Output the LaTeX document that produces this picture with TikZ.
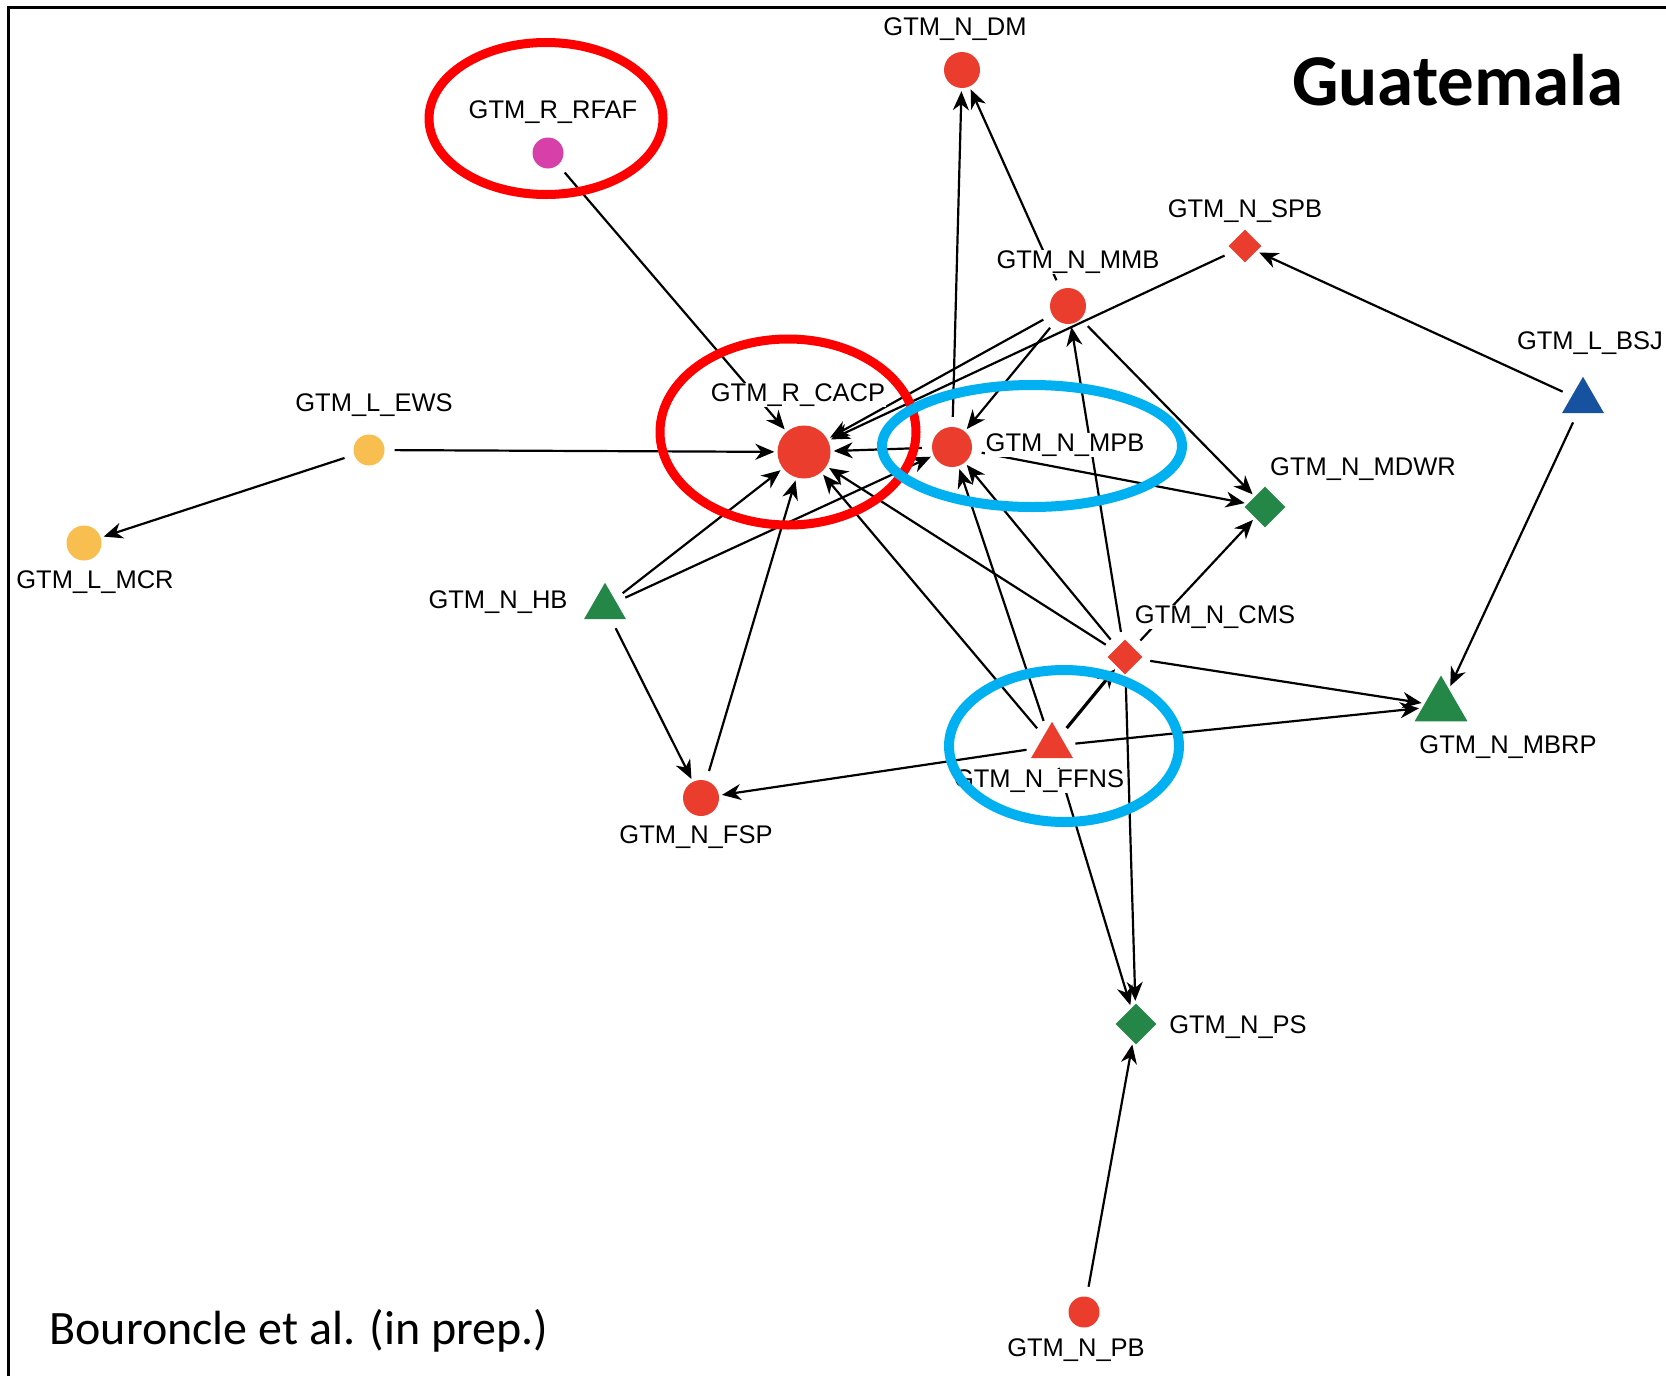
\documentclass[tikz,border=0pt]{standalone}
\usepackage{fontspec}
\setmainfont{Liberation Sans}
\newfontfamily\calibfont{Carlito}
\usetikzlibrary{arrows.meta,shapes.geometric}

\definecolor{nodered}{RGB}{234,61,45}
\definecolor{nodegreen}{RGB}{36,135,72}
\definecolor{nodeblue}{RGB}{22,82,160}
\definecolor{nodeyellow}{RGB}{249,190,80}
\definecolor{nodepink}{RGB}{214,64,168}
\definecolor{ringred}{RGB}{255,0,0}
\definecolor{ringblue}{RGB}{0,176,240}

\tikzset{
  netdot/.style={circle, fill=#1, inner sep=0pt, minimum size=36pt},
  nettri/.style={regular polygon, regular polygon sides=3, fill=#1, inner sep=0pt, minimum size=48.5pt},
  netdia/.style={diamond, fill=#1, inner sep=0pt, minimum size=35pt},
  netlbl/.style={fill=white, inner sep=1pt, font=\fontsize{25.5}{28}\selectfont},
  netlink/.style={line width=2.2pt, -{Stealth[length=19pt,width=16pt,inset=6pt]}, shorten <=10pt, shorten >=3pt},
  netring/.style={draw=#1, line width=9pt},
}

\begin{document}
\begin{tikzpicture}[x=1pt,y=1pt,yscale=-1,xscale=1]
\useasboundingbox (0,0) rectangle (1666,1376);

% frame
\draw[line width=3pt] (8,1376) -- (8,7) -- (1666,7);

% actors
\node[netdot=nodered] (dm) at (962,70) {};
\node[netdot=nodepink, minimum size=31pt] (rfaf) at (548,153) {};
\node[netdia=nodered, minimum size=33pt] (spb) at (1245,246) {};
\node[netdot=nodered] (mmb) at (1068,306) {};
\node[nettri=nodeblue] (bsj) at (1583,401) {};
\node[netdot=nodeyellow, minimum size=31pt] (ews) at (369,450) {};
\node[netdot=nodered, minimum size=53pt] (cacp) at (804,452) {};
\node[netdot=nodered, minimum size=40pt] (mpb) at (952,447) {};
\node[netdia=nodegreen, minimum size=41pt] (mdwr) at (1265,507) {};
\node[netdot=nodeyellow, minimum size=35pt] (mcr) at (84,543) {};
\node[nettri=nodegreen] (hb) at (605,607) {};
\node[netdia=nodered] (cms) at (1125,657) {};
\node[nettri=nodegreen, minimum size=61pt] (mbrp) at (1441,706) {};
\node[nettri=nodered] (ffns) at (1052,746) {};
\node[netdot=nodered] (fsp) at (701,798) {};
\node[netdia=nodegreen, minimum size=41pt] (ps) at (1136,1024) {};
\node[netdot=nodered, minimum size=31pt] (pb) at (1084,1312) {};

% links
\foreach \a/\b in {rfaf/cacp, ews/cacp, ews/mcr, mpb/cacp, mmb/cacp, spb/cacp,
    mpb/dm, mmb/dm, mmb/mpb, mmb/mdwr, mpb/mdwr,
    cms/mmb, cms/mdwr, cms/cacp, cms/mpb, cms/mbrp, cms/ps,
    ffns/mbrp, ffns/fsp, ffns/cacp, ffns/mpb, ffns/ps,
    hb/cacp, hb/mpb, hb/fsp, fsp/cacp, bsj/spb, bsj/mbrp, pb/ps}
  \draw[netlink] (\a) -- (\b);
\draw[netlink, line width=3.2pt] (ffns) -- (cms);

% labels
\node[netlbl] (dml) at (955,29) {GTM\_N\_DM};
\node[netlbl] (rfafl) at (553,112) {GTM\_R\_RFAF};
\node[netlbl] (spbl) at (1245,211) {GTM\_N\_SPB};
\node[netlbl] (mmbl) at (1078,262) {GTM\_N\_MMB};
\node[netlbl] (bsjl) at (1590,343) {GTM\_L\_BSJ};
\node[netlbl] (ewsl) at (374,405) {GTM\_L\_EWS};
\node[netlbl] (cacpl) at (798,395) {GTM\_R\_CACP};
\node[netlbl] (mpbl) at (1065,445) {GTM\_N\_MPB};
\node[netlbl] (mdwrl) at (1363,469) {GTM\_N\_MDWR};
\node[netlbl] (mcrl) at (95,582) {GTM\_L\_MCR};
\node[netlbl] (hbl) at (498,602) {GTM\_N\_HB};
\node[netlbl] (cmsl) at (1215,617) {GTM\_N\_CMS};
\node[netlbl] (mbrpl) at (1508,747) {GTM\_N\_MBRP};
\node[netlbl] (ffnsl) at (1039,781) {GTM\_N\_FFNS};
\node[netlbl] (fspl) at (696,837) {GTM\_N\_FSP};
\node[netlbl] (psl) at (1238,1027) {GTM\_N\_PS};
\node[netlbl] (pbl) at (1076,1350) {GTM\_N\_PB};

% highlight rings
\draw[netring=ringred] (546,118.5) ellipse [x radius=117, y radius=76];
\draw[netring=ringred] (788,432) ellipse [x radius=128, y radius=93];
\draw[netring=ringblue, line width=10pt] (1032,446) ellipse [x radius=150, y radius=61];
\draw[netring=ringblue, line width=10pt] (1064,746) ellipse [x radius=115, y radius=76];

% title and source
\node[font=\calibfont\bfseries\fontsize{73}{80}\selectfont] (title) at (1458,80) {Guatemala};
\node[font=\calibfont\fontsize{48}{54}\selectfont, anchor=west] (src) at (46,1331) {Bouroncle et al. (in prep.)};

\end{tikzpicture}
\end{document}
